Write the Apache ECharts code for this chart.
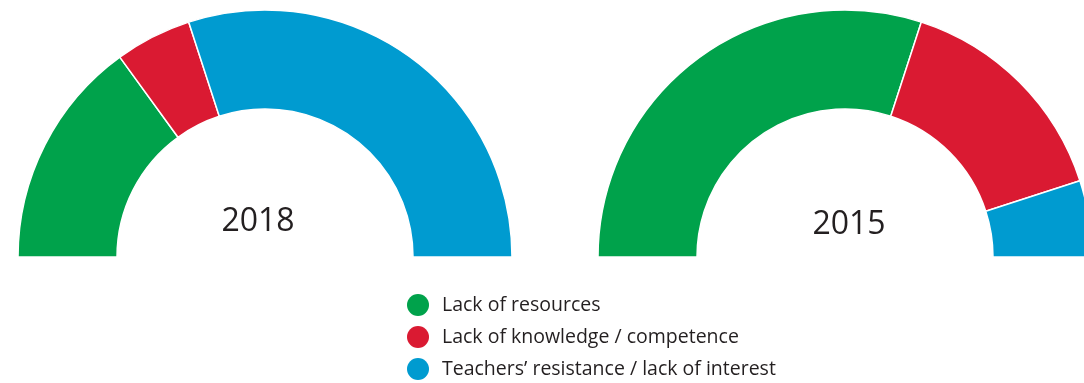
<!DOCTYPE html>
<html>
<head>
<meta charset="utf-8">
<script src="https://cdn.jsdelivr.net/npm/echarts@6/dist/echarts.min.js"></script>
<style>
  html, body { margin: 0; padding: 0; background: #fff; }
  #main { width: 1084px; height: 383px; }
</style>
</head>
<body>
<div id="main"></div>
<script>
var categories = ['Lack of resources', 'Lack of knowledge / competence', 'Teachers\u2019 resistance / lack of interest'];
var colors = ['#00a24b', '#da1a32', '#009bd0'];
var years = ['2018', '2015'];
var values2018 = [30, 10, 60];
var values2015 = [60, 30, 10];

var chartDom = document.getElementById('main');
var myChart = echarts.init(chartDom);

function makeData(vals) {
  return vals.map(function (v, i) {
    return { name: categories[i], value: v, itemStyle: { color: colors[i] } };
  });
}

function halfDonut(name, vals, cx) {
  return {
    name: name,
    type: 'pie',
    center: [cx, 257],
    radius: [148, 247],
    startAngle: 180,
    endAngle: 0,
    clockwise: true,
    avoidLabelOverlap: false,
    label: { show: false },
    labelLine: { show: false },
    emphasis: { disabled: true },
    itemStyle: { borderColor: '#fff', borderWidth: 1.5 },
    data: makeData(vals)
  };
}

myChart.setOption({
  animation: false,
  color: colors,
  legend: {
    orient: 'vertical',
    left: 407,
    top: 294,
    padding: 0,
    icon: 'circle',
    itemWidth: 22,
    itemHeight: 22,
    itemGap: 10,
    itemStyle: { borderWidth: 0 },
    data: categories,
    textStyle: { fontFamily: 'Open Sans', fontSize: 19.5, lineHeight: 22, color: '#231f20', padding: [0, 0, 0, 8] }
  },
  graphic: [
    { type: 'text', x: 258, y: 222, style: { text: years[0], font: '32px "Open Sans"', fill: '#231f20', textAlign: 'center', textVerticalAlign: 'middle' } },
    { type: 'text', x: 849, y: 225, style: { text: years[1], font: '32px "Open Sans"', fill: '#231f20', textAlign: 'center', textVerticalAlign: 'middle' } }
  ],
  series: [
    halfDonut(years[0], values2018, 265),
    halfDonut(years[1], values2015, 845)
  ]
});
</script>
</body>
</html>
